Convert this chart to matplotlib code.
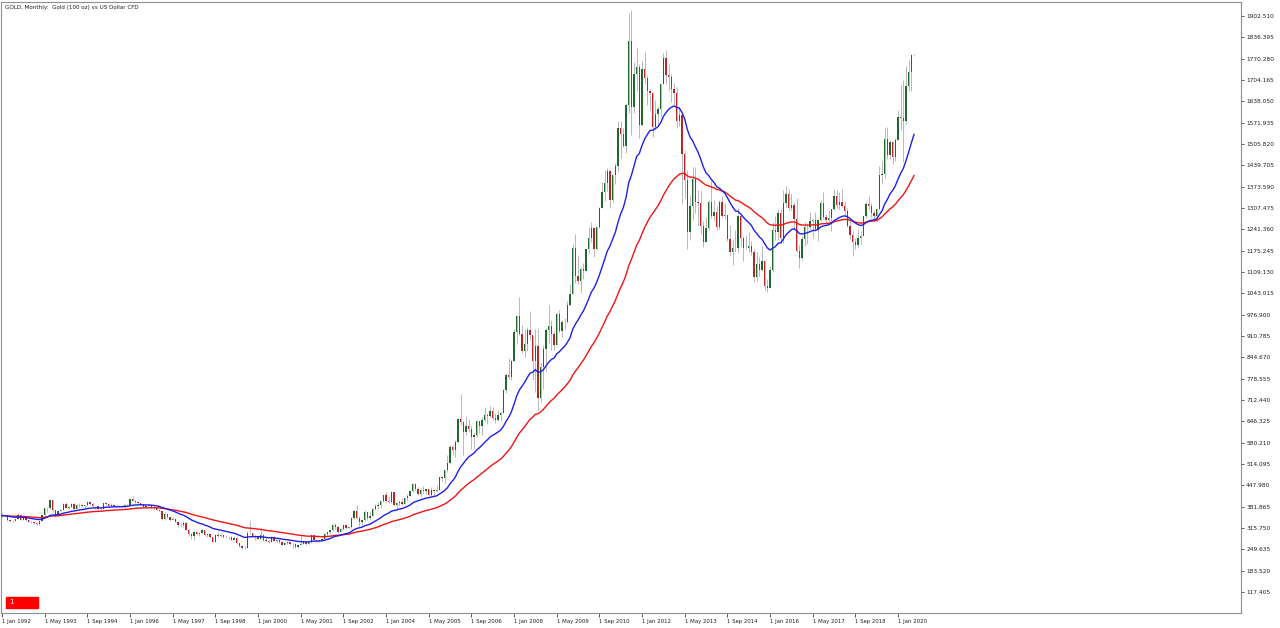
import numpy as np
import pandas as pd
import matplotlib
matplotlib.use("Agg")
import matplotlib.pyplot as plt
from matplotlib.patches import Rectangle

# monthly gold bars, Jan 1992 .. Jul 2020 (one row per year)
closes = [
    354, 353, 341, 337, 337, 343, 357, 340, 349, 339, 334, 333,
    330, 328, 337, 355, 378, 378, 402, 372, 355, 369, 371, 391,
    378, 381, 391, 376, 387, 386, 384, 386, 395, 389, 383, 383,
    375, 376, 392, 389, 385, 387, 383, 382, 384, 383, 387, 387,
    405, 400, 396, 392, 390, 382, 385, 387, 379, 379, 371, 369,
    345, 358, 349, 340, 345, 334, 326, 325, 332, 311, 296, 290,
    303, 297, 301, 309, 293, 296, 288, 273, 294, 292, 294, 288,
    287, 287, 280, 286, 268, 261, 255, 255, 299, 299, 292, 290,
    283, 293, 278, 275, 272, 288, 276, 278, 273, 264, 270, 273,
    265, 267, 258, 264, 267, 271, 266, 273, 293, 279, 275, 279,
    282, 297, 302, 309, 326, 318, 304, 312, 324, 317, 318, 348,
    368, 348, 335, 339, 364, 346, 354, 375, 385, 386, 398, 417,
    399, 396, 427, 387, 394, 395, 391, 408, 416, 429, 453, 438,
    422, 435, 429, 436, 417, 435, 430, 434, 473, 470, 495, 517,
    568, 556, 582, 654, 643, 613, 633, 623, 599, 604, 646, 632,
    650, 665, 662, 679, 658, 650, 666, 672, 743, 789, 783, 834,
    923, 972, 917, 865, 886, 928, 913, 833, 880, 718, 814, 870,
    928, 942, 917, 883, 979, 927, 955, 955, 1007, 1040, 1182, 1096,
    1081, 1118, 1113, 1179, 1213, 1244, 1181, 1248, 1308, 1357, 1384, 1421,
    1333, 1410, 1439, 1556, 1536, 1500, 1628, 1826, 1620, 1722, 1746, 1565,
    1737, 1710, 1669, 1664, 1560, 1598, 1615, 1692, 1772, 1719, 1713, 1675,
    1663, 1578, 1595, 1476, 1393, 1234, 1313, 1396, 1327, 1323, 1253, 1202,
    1244, 1326, 1284, 1296, 1250, 1327, 1282, 1287, 1210, 1172, 1182, 1184,
    1283, 1213, 1183, 1184, 1190, 1172, 1095, 1133, 1115, 1142, 1065, 1061,
    1116, 1238, 1233, 1293, 1215, 1322, 1351, 1309, 1316, 1272, 1173, 1151,
    1211, 1249, 1249, 1268, 1269, 1242, 1269, 1322, 1280, 1271, 1275, 1303,
    1345, 1318, 1325, 1315, 1299, 1253, 1224, 1201, 1192, 1215, 1222, 1282,
    1321, 1313, 1292, 1284, 1305, 1409, 1413, 1520, 1472, 1513, 1464, 1517,
    1589, 1585, 1577, 1687, 1730, 1781, 1783,
]

highs = [
    362, 357, 354, 343, 340, 345, 362, 358, 350, 349, 341, 337,
    335, 334, 338, 356, 379, 380, 407, 404, 372, 371, 375, 392,
    395, 384, 392, 392, 390, 394, 390, 388, 398, 397, 392, 385,
    384, 380, 394, 397, 392, 392, 390, 388, 387, 388, 389, 389,
    408, 416, 402, 398, 394, 391, 387, 389, 388, 383, 384, 374,
    369, 366, 356, 351, 351, 346, 335, 332, 336, 333, 314, 299,
    305, 305, 303, 314, 310, 297, 296, 289, 298, 302, 299, 296,
    293, 290, 290, 290, 291, 268, 263, 259, 306, 338, 299, 293,
    292, 316, 296, 287, 278, 292, 290, 282, 279, 275, 273, 275,
    273, 270, 268, 266, 294, 275, 272, 276, 298, 294, 280, 280,
    284, 300, 304, 310, 328, 330, 324, 316, 326, 327, 323, 350,
    373, 388, 353, 341, 373, 366, 365, 377, 390, 395, 400, 417,
    427, 415, 431, 428, 397, 404, 409, 409, 420, 431, 455, 456,
    443, 438, 447, 437, 437, 443, 438, 448, 474, 476, 496, 541,
    573, 574, 587, 655, 730, 646, 663, 655, 633, 610, 650, 644,
    659, 690, 672, 694, 692, 672, 682, 679, 745, 796, 842, 837,
    932, 975, 1033, 945, 934, 940, 987, 915, 934, 931, 826, 882,
    937, 1006, 960, 925, 982, 990, 960, 966, 1020, 1071, 1195, 1227,
    1162, 1125, 1136, 1181, 1249, 1265, 1245, 1250, 1310, 1388, 1424, 1432,
    1424, 1411, 1447, 1576, 1577, 1556, 1632, 1912, 1921, 1761, 1803, 1754,
    1764, 1791, 1719, 1676, 1667, 1641, 1625, 1693, 1787, 1796, 1755, 1723,
    1696, 1683, 1616, 1598, 1488, 1424, 1348, 1434, 1434, 1362, 1361, 1267,
    1280, 1332, 1392, 1331, 1315, 1332, 1345, 1323, 1287, 1256, 1208, 1238,
    1307, 1288, 1220, 1224, 1232, 1205, 1180, 1170, 1157, 1191, 1142, 1088,
    1128, 1263, 1283, 1304, 1303, 1362, 1375, 1366, 1352, 1326, 1338, 1192,
    1220, 1264, 1262, 1295, 1272, 1296, 1271, 1331, 1357, 1290, 1300, 1305,
    1366, 1362, 1356, 1365, 1326, 1309, 1266, 1236, 1214, 1243, 1237, 1284,
    1326, 1346, 1324, 1301, 1306, 1439, 1453, 1555, 1557, 1518, 1516, 1525,
    1611, 1689, 1704, 1748, 1765, 1786, 1786,
]

lows = [
    350, 350, 338, 335, 333, 336, 343, 339, 339, 338, 333, 330,
    328, 326, 326, 336, 354, 365, 376, 365, 351, 353, 367, 370,
    377, 376, 380, 372, 375, 382, 381, 378, 385, 386, 382, 375,
    373, 371, 375, 388, 382, 384, 382, 381, 381, 381, 382, 385,
    387, 398, 394, 389, 388, 381, 381, 383, 378, 376, 370, 367,
    342, 340, 347, 337, 339, 333, 318, 319, 320, 309, 291, 283,
    277, 294, 290, 299, 290, 287, 286, 272, 272, 289, 289, 284,
    284, 282, 277, 278, 267, 257, 252, 252, 253, 296, 288, 279,
    281, 282, 276, 273, 270, 271, 275, 271, 270, 263, 263, 267,
    263, 255, 255, 254, 263, 266, 264, 265, 270, 278, 271, 271,
    276, 281, 290, 298, 307, 313, 300, 303, 310, 313, 315, 316,
    345, 344, 321, 324, 337, 339, 341, 352, 373, 374, 378, 397,
    395, 392, 392, 386, 372, 383, 386, 389, 398, 414, 427, 434,
    418, 411, 423, 420, 414, 414, 418, 428, 432, 460, 455, 488,
    513, 541, 537, 579, 636, 543, 605, 612, 560, 561, 599, 610,
    603, 647, 637, 661, 650, 642, 646, 648, 671, 734, 778, 774,
    834, 886, 913, 858, 847, 863, 902, 774, 736, 681, 705, 745,
    801, 889, 866, 866, 883, 919, 908, 933, 950, 1004, 1040, 1075,
    1072, 1045, 1087, 1111, 1165, 1202, 1155, 1178, 1244, 1308, 1330, 1360,
    1308, 1327, 1381, 1420, 1462, 1495, 1479, 1603, 1535, 1602, 1669, 1523,
    1563, 1691, 1627, 1612, 1527, 1549, 1564, 1593, 1692, 1693, 1673, 1636,
    1626, 1555, 1562, 1321, 1338, 1180, 1208, 1271, 1292, 1251, 1227, 1187,
    1202, 1240, 1277, 1268, 1240, 1241, 1281, 1273, 1206, 1160, 1131, 1170,
    1167, 1191, 1142, 1179, 1170, 1162, 1077, 1080, 1098, 1112, 1052, 1046,
    1060, 1108, 1208, 1207, 1200, 1200, 1310, 1302, 1302, 1241, 1171, 1122,
    1145, 1191, 1195, 1243, 1214, 1236, 1205, 1266, 1274, 1260, 1264, 1236,
    1302, 1307, 1303, 1310, 1282, 1250, 1211, 1160, 1180, 1182, 1196, 1221,
    1276, 1302, 1281, 1266, 1266, 1301, 1381, 1400, 1459, 1458, 1445, 1454,
    1517, 1548, 1451, 1567, 1670, 1671, 1779,
]

first_open = 353  # Dec 1991 close

date_labels = ["1 Jan 1992", "1 May 1993", "1 Sep 1994", "1 Jan 1996", "1 May 1997",
               "1 Sep 1998", "1 Jan 2000", "1 May 2001", "1 Sep 2002", "1 Jan 2004",
               "1 May 2005", "1 Sep 2006", "1 Jan 2008", "1 May 2009", "1 Sep 2010",
               "1 Jan 2012", "1 May 2013", "1 Sep 2014", "1 Jan 2016", "1 May 2017",
               "1 Sep 2018", "1 Jan 2020"]
price_ticks = [1902.510, 1836.395, 1770.280, 1704.165, 1638.050, 1571.935, 1505.820,
               1439.705, 1373.590, 1307.475, 1241.360, 1175.245, 1109.130, 1043.015,
               976.900, 910.785, 844.670, 778.555, 712.440, 646.325, 580.210, 514.095,
               447.980, 381.865, 315.750, 249.635, 183.520, 117.405]

c = np.array(closes, dtype=float)
h = np.array(highs, dtype=float)
l = np.array(lows, dtype=float)
# each month opens where the previous one closed
o = np.concatenate([[first_open], c[:-1]])
h = np.maximum(h, np.maximum(o, c))
l = np.minimum(l, np.minimum(o, c))
x = np.arange(len(c))

ma_fast = pd.Series(c).ewm(span=20, adjust=False).mean()
ma_slow = pd.Series(c).ewm(span=50, adjust=False).mean()

fig = plt.figure(figsize=(12.8, 6.28), dpi=100)
ax = fig.add_axes([1 / 1280, 1 - 613 / 628, 1240 / 1280, 611 / 628])

up = c >= o
ax.vlines(x, l, h, color="#b8b8b8", lw=0.7, zorder=1)
ax.bar(x[up], (c - o)[up], bottom=o[up], width=0.55, color="#1d6a2c", zorder=2)
ax.bar(x[~up], (o - c)[~up], bottom=c[~up], width=0.55, color="#b8262c", zorder=2)

ax.plot(x, ma_slow, color="#f01414", lw=1.0, zorder=3)
ax.plot(x, ma_fast, color="#1f1fe8", lw=1.0, zorder=4)

ax.set_xlim(-0.375, 464.6)
ax.set_ylim(52.3, 1945.9)

ax.set_xticks(np.arange(len(date_labels)) * 16)
ax.set_xticklabels(date_labels, fontsize=3.9, ha="left", color="#202020")
ax.yaxis.tick_right()
ax.set_yticks(price_ticks)
ax.set_yticklabels(["%.3f" % v for v in price_ticks], fontsize=4.2, color="#202020")
ax.tick_params(axis="x", length=3, width=0.6, pad=1, color="#404040")
ax.tick_params(axis="y", length=2.5, width=0.6, pad=1.2, color="#404040")
for s in ax.spines.values():
    s.set_color("#909090")
    s.set_linewidth(0.8)

fig.text(5 / 1280, 1 - 7 / 628, "GOLD, Monthly:  Gold (100 oz) vs US Dollar CFD",
         fontsize=4.1, va="center", color="#202020")
fig.patches.append(Rectangle((6 / 1280, 1 - 608 / 628), 32 / 1280, 11 / 628,
                             transform=fig.transFigure, color="#ff0000"))
fig.text(9 / 1280, 1 - 602.5 / 628, "1", fontsize=5, color="white", va="center")

fig.savefig("out.png", dpi=100)
